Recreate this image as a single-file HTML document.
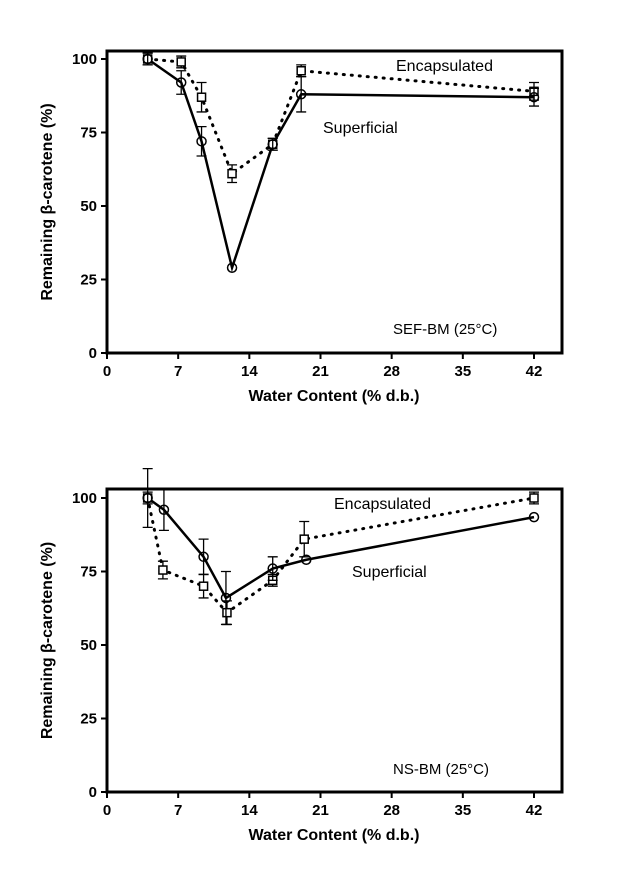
<!DOCTYPE html>
<html><head><meta charset="utf-8"><style>
body{margin:0;background:#fff}
svg text{font-family:"Liberation Sans",sans-serif}
</style></head><body>
<svg id="c" width="638" height="887" xmlns="http://www.w3.org/2000/svg"></svg>
<script>
const xTicks=[0,7,14,21,28,35,42];
const yTicks=[0,25,50,75,100];
const topSupX=[4,7.3,9.3,12.3,16.3,19.1,42];
const topSupY=[100,92,72,29,71,88,87];
const topSupErr=[2,4,5,0,2,6,3];
const topEncX=[4,7.3,9.3,12.3,16.3,19.1,42];
const topEncY=[100,99,87,61,71,96,89];
const topEncErr=[2,2,5,3,2,2,3];
const botSupX=[4,5.6,9.5,11.7,16.3,19.6,42];
const botSupY=[100,96,80,66,76,79,93.5];
const botSupErr=[10,7,6,9,4,0,0];
const botEncX=[4,5.5,9.5,11.8,16.3,19.4,42];
const botEncY=[100,75.5,70,61,72,86,100];
const botEncErr=[2,3,4,4,2,6,2];
const NS="http://www.w3.org/2000/svg";
const svg=document.getElementById('c');
function el(t,a,txt){const e=document.createElementNS(NS,t);for(const k in a)e.setAttribute(k,a[k]);if(txt!==undefined)e.textContent=txt;svg.appendChild(e);return e;}
function panel(p,top,y0,y100,sx,sy,se,ex,ey,ee,label,encLbl,supLbl){
 const X=v=>107+v*(534-107)/42;
 const Y=v=>y0-v*(y0-y100)/100;
 let r=el('rect',{x:107,y:top,width:455,height:y0-top,fill:'none',stroke:'#000','stroke-width':3});
 
 xTicks.forEach(t=>{
  let l=el('line',{x1:X(t),x2:X(t),y1:y0,y2:y0+6,stroke:'#000','stroke-width':2});
  
  let tx=el('text',{x:X(t),y:y0+23,'text-anchor':'middle','font-size':15,'font-weight':'bold'},t);
  
 });
 yTicks.forEach(t=>{
  let l=el('line',{x1:101,x2:107,y1:Y(t),y2:Y(t),stroke:'#000','stroke-width':2});
  
  let tx=el('text',{x:97,y:Y(t)+5,'text-anchor':'end','font-size':15,'font-weight':'bold'},t);
  
 });
 let xt=el('text',{x:334,y:y0+48,'text-anchor':'middle','font-size':16,'font-weight':'bold'},'Water Content (% d.b.)');
 
 const cy=(top+y0)/2;
 let yt=el('text',{x:52,y:cy,'text-anchor':'middle','font-size':16,'font-weight':'bold',transform:`rotate(-90 52 ${cy})`},'Remaining β-carotene (%)');
 
 // encapsulated dotted
 let pe=el('polyline',{points:ex.map((v,i)=>X(v)+','+Y(ey[i])).join(' '),fill:'none',stroke:'#000','stroke-width':3,'stroke-dasharray':'1 7','stroke-linecap':'round'});
 
 let ps=el('polyline',{points:sx.map((v,i)=>X(v)+','+Y(sy[i])).join(' '),fill:'none',stroke:'#000','stroke-width':2.5});
 
 function eb(x,y,e){if(!e)return;const a=Y(y+e),b=Y(y-e);
  let g=el('path',{d:`M${x},${a}V${b}M${x-5},${a}H${x+5}M${x-5},${b}H${x+5}`,stroke:'#000','stroke-width':1.3,fill:'none'});
  }
 ex.forEach((v,i)=>{eb(X(v),ey[i],ee[i]);
  let s=el('rect',{x:X(v)-4,y:Y(ey[i])-4,width:8,height:8,fill:'#fff',stroke:'#000','stroke-width':1.5});
  });
 sx.forEach((v,i)=>{eb(X(v),sy[i],se[i]);
  let c=el('circle',{cx:X(v),cy:Y(sy[i]),r:4.5,fill:'none',stroke:'#000','stroke-width':1.5});
  });
 let a=el('text',{x:encLbl[0],y:encLbl[1],'font-size':16},'Encapsulated');
 
 let b=el('text',{x:supLbl[0],y:supLbl[1],'font-size':16},'Superficial');
 
 let c=el('text',{x:label[0],y:label[1],'font-size':15},label[2]);
 
}
panel('top',51,353,59,topSupX,topSupY,topSupErr,topEncX,topEncY,topEncErr,[393,334,'SEF-BM (25°C)'],[396,71],[323,133]);
panel('bottom',489,792,498,botSupX,botSupY,botSupErr,botEncX,botEncY,botEncErr,[393,774,'NS-BM (25°C)'],[334,509],[352,577]);
</script>
</body></html>
